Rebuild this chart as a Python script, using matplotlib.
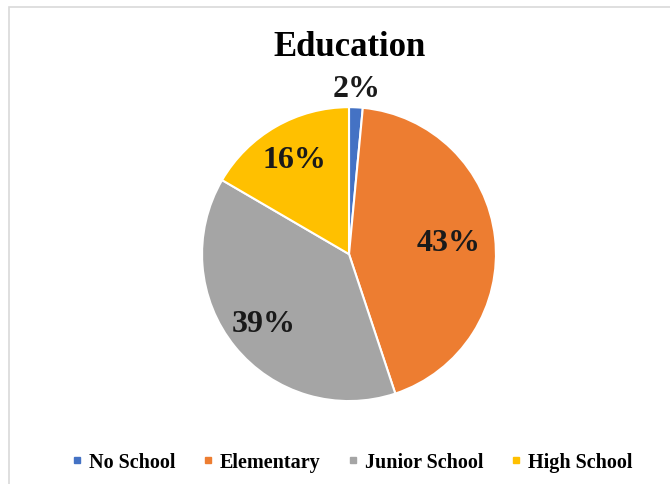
import numpy as np
import matplotlib
matplotlib.use('Agg')
import matplotlib.pyplot as plt
from matplotlib.lines import Line2D
from matplotlib.patches import Rectangle

categories = ['No School', 'Elementary', 'Junior School', 'High School']
shares = [1.5, 43.4, 38.5, 16.6]
labels = ['2%', '43%', '39%', '16%']
colors = ['#4472C4', '#ED7D31', '#A5A5A5', '#FFC000']

plt.rcParams['font.family'] = ['Liberation Serif', 'DejaVu Serif']

fig = plt.figure(figsize=(6.7, 4.85), dpi=100)

# light frame like the spreadsheet chart area
fig.patches.append(Rectangle((9 / 670, -0.01), 1.0, (485 - 8) / 485 + 0.01,
                             transform=fig.transFigure, fill=False,
                             edgecolor='#d9d9d9', linewidth=1.2))

ax = fig.add_axes([0.3015, 0.171, 0.4388, 0.606])
wedges, _ = ax.pie(shares, colors=colors, startangle=90, counterclock=False,
                   radius=1, wedgeprops=dict(edgecolor='white', linewidth=1.5))
ax.set_xlim(-1, 1)
ax.set_ylim(-1, 1)

# label distance per slice (first one sits outside the pie)
dists = [1.13, 0.68, 0.75, 0.74]
for w, lab, d in zip(wedges, labels, dists):
    ang = np.deg2rad((w.theta1 + w.theta2) / 2)
    ax.text(d * np.cos(ang), d * np.sin(ang), lab, ha='center', va='center',
            fontsize=23, fontweight='bold', color='#1a1a1a')

fig.text(0.522, 0.903, 'Education', ha='center', va='center',
         fontsize=25, fontweight='bold')

handles = [Line2D([], [], marker='s', linestyle='', color=c, markersize=5)
           for c in colors]
fig.legend(handles, categories, loc='center', bbox_to_anchor=(0.525, 0.045),
           ncol=4, frameon=False, handlelength=0.6, handletextpad=0.3,
           columnspacing=1.3, prop=dict(weight='bold', size=14.5))

fig.savefig('out.png', dpi=100)
